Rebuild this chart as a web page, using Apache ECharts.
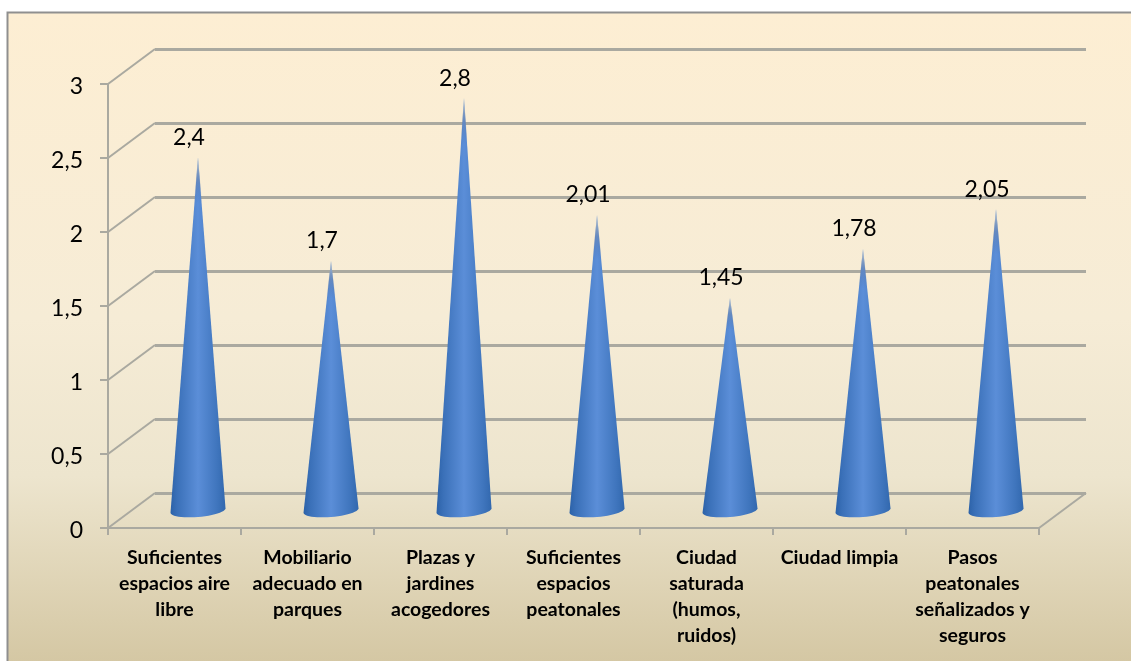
<!DOCTYPE html>
<html><head><meta charset="utf-8">
<style>html,body{margin:0;padding:0;background:#fff}#c{width:1131px;height:661px}</style>
<script src="https://cdn.jsdelivr.net/npm/echarts@6/dist/echarts.min.js"></script>
</head><body><div id="c"></div>
<script>
const categories = [
  'Suficientes\nespacios aire\nlibre',
  'Mobiliario\nadecuado en\nparques',
  'Plazas y\njardines\nacogedores',
  'Suficientes\nespacios\npeatonales',
  'Ciudad\nsaturada\n(humos,\nruidos)',
  'Ciudad limpia',
  'Pasos\npeatonales\nseñalizados y\nseguros'
];
const values = [2.4, 1.7, 2.8, 2.01, 1.45, 1.78, 2.05];
const yTicks = [0, 0.5, 1, 1.5, 2, 2.5, 3];

const FONT = 'Lato, "Open Sans", sans-serif';
const GRID = '#aaa9a0';
const W = 1131, H = 661;
const front = {l:108, r:1039, t:84, b:528};
const depth = {x:47, y:-35};
const rect = (dx, dy) => ({left:front.l+dx, top:front.t+dy, width:front.r-front.l, height:front.b-front.t});
const comma = v => String(v).replace('.', ',');

const chart = echarts.init(document.getElementById('c'), null, {renderer:'canvas'});

function renderCone(params, api) {
  const v = api.value(1), idx = api.value(0);
  const base = api.coord([idx, 0]);
  const tip = api.coord([idx, v]);
  const cx = base[0], by = base[1], ty = tip[1] + 2;
  const rx = 27.5, ry = 6.5, tilt = 2.2;
  const h = by - ty;
  const fade = Math.min(46, h * 0.15);
  const wCut = rx * fade / h;
  const pts = [[cx, ty]];
  for (let i = 0; i <= 24; i++) {
    const a = Math.PI * i / 24;
    const dx = rx * Math.cos(a);
    pts.push([cx + dx, by + ry * Math.sin(a) - tilt * Math.cos(a)]);
  }
  return {
    type: 'group',
    children: [
      {type:'polygon', shape:{points:pts}, style:{fill:new echarts.graphic.LinearGradient(0,0,1,0,[
        {offset:0, color:'#2c62a8'},{offset:0.12, color:'#3a70b8'},{offset:0.5, color:'#5b8ed8'},
        {offset:0.85, color:'#3f75bd'},{offset:1, color:'#3268ae'}])}},
      {type:'polygon', shape:{points:[[cx, ty],[cx + wCut + 0.5, ty + fade],[cx - wCut - 0.5, ty + fade]]},
       style:{fill:new echarts.graphic.LinearGradient(0,0,0,1,[
        {offset:0, color:'rgba(240,235,215,0.75)'},{offset:0.5, color:'rgba(120,130,150,0.35)'},{offset:1, color:'rgba(60,90,140,0)'}])}},
      {type:'text', x: cx - 9, y: ty - 20, style:{text: comma(v), font:'23px '+FONT, fill:'#000', align:'center', verticalAlign:'middle'}}
    ]
  };
}

function renderDiag(params, api) {
  const p = api.coord([0, api.value(0)]);
  const half = api.size([1, 0])[0] / 2;
  const x = p[0] - half, y = p[1];
  return {type:'line', shape:{x1:x, y1:y, x2:x+depth.x, y2:y+depth.y},
    style:{stroke:GRID, lineWidth:2}};
}
function renderFloorRight(params, api) {
  const p = api.coord([categories.length - 1, 0]);
  const half = api.size([1, 0])[0] / 2;
  const x = p[0] + half, y = p[1];
  return {type:'line', shape:{x1:x, y1:y, x2:x+depth.x, y2:y+depth.y},
    style:{stroke:GRID, lineWidth:2}};
}

const yBase = {type:'value', min:0, max:3, interval:0.5};
const xBase = {type:'category', data:categories};

chart.setOption({
  animation:false,
  graphic:[{type:'rect', z:-10, silent:true, shape:{x:7.5, y:12.5, width:W+20, height:H+20},
    style:{stroke:'#8f8f8f', lineWidth:2,
      fill:new echarts.graphic.LinearGradient(0,0,0,1,[
        {offset:0, color:'#fdeed3'},{offset:0.45, color:'#f6ecd6'},{offset:0.68, color:'#ede5ce'},{offset:1, color:'#d0c29c'}], false)}}],
  grid:[
    {...rect(0,0), containLabel:false},
    {...rect(depth.x, depth.y)},
    {...rect(depth.x/2, depth.y/2)}
  ],
  xAxis:[
    {...xBase, gridIndex:0, axisLine:{show:true, lineStyle:{color:GRID, width:2}},
      axisTick:{show:true, alignWithLabel:false, length:7, lineStyle:{color:GRID, width:2}},
      axisLabel:{show:true, interval:0, margin:17, color:'#000', fontFamily:FONT, fontWeight:'bold', fontSize:19.5, lineHeight:26, verticalAlign:'top'}},
    {...xBase, gridIndex:1, show:false},
    {...xBase, gridIndex:2, show:false}
  ],
  yAxis:[
    {...yBase, gridIndex:0, axisLine:{show:true, lineStyle:{color:GRID, width:2}},
      axisTick:{show:true, length:8, lineStyle:{color:GRID, width:2}}, splitLine:{show:false},
      axisLabel:{margin:25, color:'#000', fontFamily:FONT, fontSize:23, verticalAlign:'top', lineHeight:5, formatter:comma}},
    {...yBase, gridIndex:1, axisLine:{show:false}, axisTick:{show:false}, axisLabel:{show:false},
      splitLine:{show:true, lineStyle:{color:GRID, width:3}}},
    {...yBase, gridIndex:2, show:false, splitLine:{show:false}}
  ],
  series:[
    {type:'custom', xAxisIndex:0, yAxisIndex:0, data:yTicks.map(t=>[t]), renderItem:renderDiag, z:1, silent:true},
    {type:'custom', xAxisIndex:0, yAxisIndex:0, data:[[0]], renderItem:renderFloorRight, z:1, silent:true},
    {type:'custom', xAxisIndex:2, yAxisIndex:2, data:values.map((v,i)=>[i,v]), renderItem:renderCone, z:5, silent:true,
      encode:{x:0,y:1}}
  ]
});
</script></body></html>
